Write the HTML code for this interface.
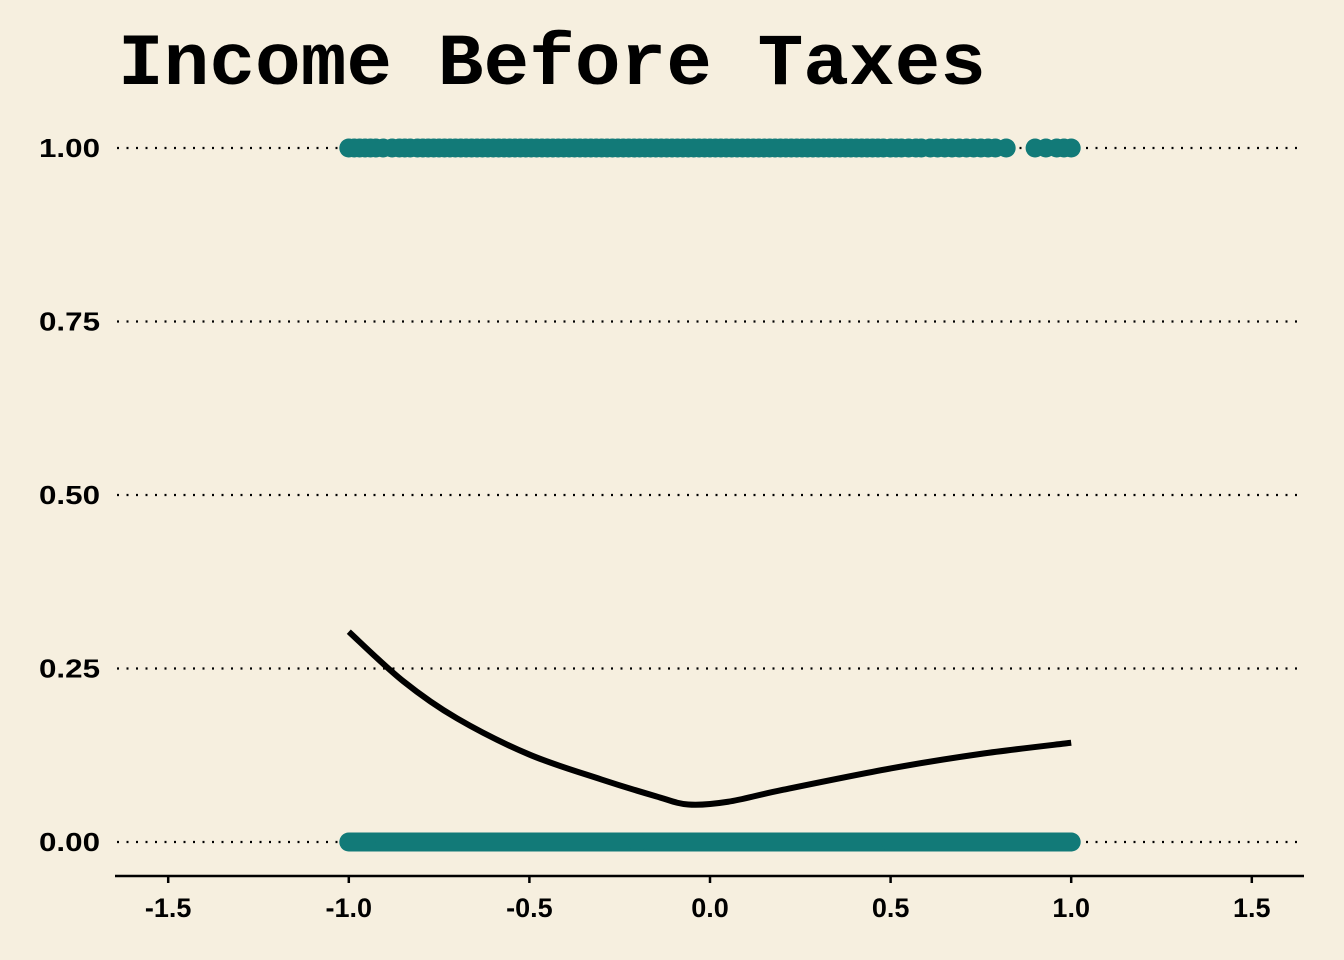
<!DOCTYPE html>
<html><head><meta charset="utf-8"><style>
html,body{margin:0;padding:0;background:#f6efdf;}
svg{display:block;}
</style></head><body>
<svg id="chart" width="1344" height="960" xmlns="http://www.w3.org/2000/svg">
<rect width="1344" height="960" fill="#f6efdf"/>
<text x="118" y="84" font-family="Liberation Mono, monospace" font-weight="bold" font-size="73" textLength="868" lengthAdjust="spacingAndGlyphs" fill="#000">Income Before Taxes</text>
<g id="grid"></g>
<g id="yaxis"></g>
<g id="xaxis"></g>
<g id="pts"></g>
<g id="curve"></g>
</svg>
<script>
const yTicks=[0,0.25,0.5,0.75,1];
const yTickLabels=["0.00","0.25","0.50","0.75","1.00"];
const xTicks=[-1.5,-1,-0.5,0,0.5,1,1.5];
const xTickLabels=["-1.5","-1.0","-0.5","0.0","0.5","1.0","1.5"];
const topX=[-1.0,-0.985,-0.97,-0.955,-0.94,-0.925,-0.905,-0.88,-0.86,-0.845,-0.83,-0.81,-0.795,-0.78,-0.765,-0.75,-0.735,-0.72,-0.705,-0.69,-0.675,-0.66,-0.645,-0.63,-0.615,-0.6,-0.585,-0.57,-0.555,-0.54,-0.525,-0.51,-0.495,-0.48,-0.465,-0.45,-0.435,-0.42,-0.405,-0.39,-0.375,-0.36,-0.345,-0.33,-0.315,-0.3,-0.285,-0.27,-0.255,-0.24,-0.225,-0.21,-0.195,-0.18,-0.165,-0.15,-0.135,-0.12,-0.105,-0.09,-0.075,-0.06,-0.045,-0.03,-0.015,0,0.015,0.03,0.045,0.06,0.075,0.09,0.105,0.12,0.135,0.15,0.165,0.18,0.195,0.21,0.225,0.24,0.255,0.27,0.285,0.3,0.315,0.33,0.345,0.36,0.375,0.39,0.405,0.42,0.435,0.45,0.465,0.48,0.5,0.515,0.53,0.55,0.57,0.585,0.61,0.63,0.65,0.67,0.69,0.71,0.73,0.75,0.77,0.79,0.82,0.9,0.93,0.96,0.98,1.0];
const bottomX=[-1.0,-0.9,-0.8,-0.7,-0.6,-0.5,-0.4,-0.3,-0.2,-0.1,0,0.1,0.2,0.3,0.4,0.5,0.6,0.7,0.8,0.9,1.0];
const curveX=[-1.0,-0.85,-0.7,-0.5,-0.3,-0.15,-0.06,0.05,0.2,0.5,0.75,1.0];
const curveY=[0.303,0.232,0.178,0.126,0.09,0.066,0.054,0.058,0.075,0.106,0.127,0.143];
const NS="http://www.w3.org/2000/svg";
const sx=v=>710+v*361.2, sy=v=>842-v*694;
function mk(t,a,p){const e=document.createElementNS(NS,t);for(const k in a)e.setAttribute(k,a[k]);p.appendChild(e);return e;}
const grid=document.getElementById('grid'),ya=document.getElementById('yaxis'),xa=document.getElementById('xaxis'),pts=document.getElementById('pts'),cv=document.getElementById('curve');
yTicks.forEach((v,i)=>{
 const l=mk('line',{x1:117,x2:1300,y1:sy(v),y2:sy(v),stroke:'#000','stroke-width':2.2,'stroke-dasharray':'2 7.5'},grid);
 
 
 const t=mk('text',{x:100,y:sy(v)+9,'text-anchor':'end','font-family':'Liberation Sans, sans-serif','font-weight':'bold','font-size':26,textLength:61,lengthAdjust:'spacingAndGlyphs'},ya);
 
 
 t.textContent=yTickLabels[i];
});
const ax=mk('line',{x1:115,x2:1304,y1:876,y2:876,stroke:'#000','stroke-width':2.5},xa);


xTicks.forEach((v,i)=>{
 const tk=mk('line',{x1:sx(v),x2:sx(v),y1:876,y2:883,stroke:'#000','stroke-width':2.5},xa);
 
 
 const t=mk('text',{x:sx(v),y:917,'text-anchor':'middle','font-family':'Liberation Sans, sans-serif','font-weight':'bold','font-size':27},xa);
 
 
 t.textContent=xTickLabels[i];
});
const col='#127a78';
topX.forEach(v=>{
 const c=mk('circle',{cx:sx(v),cy:sy(1),r:9.5,fill:col},pts);
 
 
});
for(let i=0;i<bottomX.length-1;i++){
 const r=mk('rect',{x:sx(bottomX[i]),y:sy(0)-9.5,width:sx(bottomX[i+1])-sx(bottomX[i])+1,height:19,fill:col},pts);
 
 
}
bottomX.forEach(v=>{
 const c=mk('circle',{cx:sx(v),cy:sy(0),r:9.5,fill:col},pts);
 
 
});
const P=curveX.map((x,i)=>[sx(x),sy(curveY[i])]);
let d='M'+P[0][0]+','+P[0][1];
for(let i=0;i<P.length-1;i++){
 const p0=P[Math.max(0,i-1)],p1=P[i],p2=P[i+1],p3=P[Math.min(P.length-1,i+2)];
 const c1=[p1[0]+(p2[0]-p0[0])/6,p1[1]+(p2[1]-p0[1])/6],c2=[p2[0]-(p3[0]-p1[0])/6,p2[1]-(p3[1]-p1[1])/6];
 d+=' C'+c1+' '+c2+' '+p2;
}
const path=mk('path',{d:d,fill:'none',stroke:'#000','stroke-width':6},cv);


</script>
</body></html>
